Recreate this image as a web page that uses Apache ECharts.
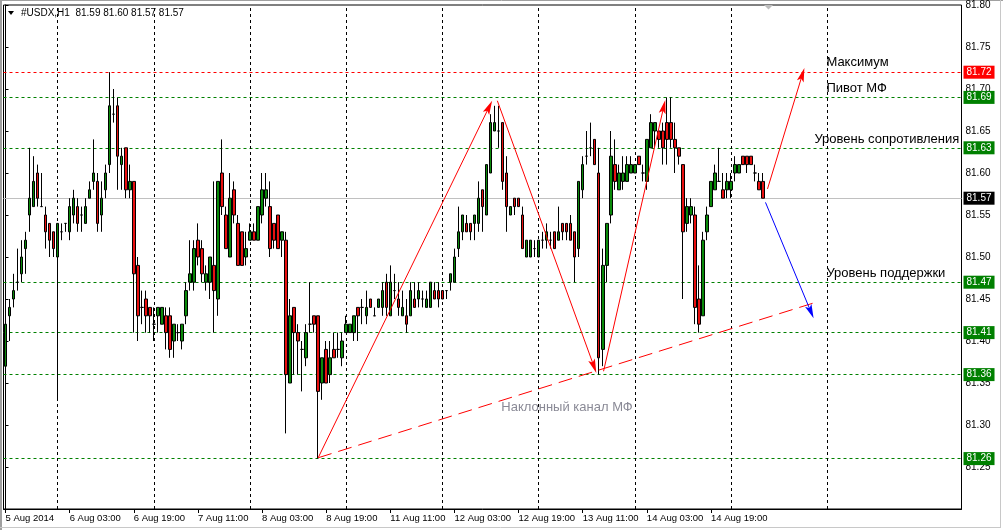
<!DOCTYPE html>
<html><head><meta charset="utf-8">
<script src="https://cdn.jsdelivr.net/npm/echarts@6/dist/echarts.min.js"></script>
<style>html,body{margin:0;padding:0;background:#fff}#c{width:1003px;height:530px}</style>
</head><body><div id="c"></div>
<script>
const symbolName = '#USDX,H1';
// OHLC of H1 bars, 5 Aug 2014 11:00 -> 15 Aug 2014 08:00
const opens = [
81.37,81.43,81.45,81.47,81.48,81.51,81.55,81.56,81.60,81.56,
81.55,81.54,81.53,81.50,81.53,81.54,81.53,81.55,81.56,81.55,
81.54,81.57,81.59,81.59,81.55,81.58,81.61,81.67,81.68,81.61,
81.63,81.58,81.59,81.49,81.44,81.45,81.44,81.42,81.43,81.42,
81.43,81.43,81.40,81.41,81.40,81.43,81.47,81.47,81.52,81.51,
81.47,81.47,81.49,81.45,81.60,81.55,81.50,81.58,81.54,81.53,
81.50,81.52,81.53,81.52,81.55,81.57,81.56,81.54,81.55,81.52,
81.52,81.35,81.44,81.41,81.39,81.38,81.42,81.43,81.43,81.35,
81.39,81.36,81.39,81.39,81.38,81.41,81.41,81.41,81.44,81.44,
81.43,81.45,81.43,81.44,81.44,81.47,81.43,81.46,81.45,81.43,
81.43,81.43,81.45,81.45,81.45,81.44,81.44,81.46,81.46,81.46,
81.46,81.47,81.47,81.51,81.53,81.54,81.54,81.54,81.54,81.58,
81.55,81.60,81.65,81.65,81.66,81.60,81.55,81.57,81.57,81.55,
81.50,81.50,81.51,81.50,81.52,81.52,81.52,81.53,81.52,81.54,
81.54,81.54,81.53,81.51,81.58,81.62,81.63,81.64,81.60,81.39,
81.49,81.55,81.61,81.58,81.59,81.59,81.60,81.60,81.62,81.60,
81.59,81.63,81.65,81.65,81.65,81.66,81.66,81.64,81.63,81.61,
81.54,81.55,81.55,81.45,81.43,81.53,81.56,81.58,81.59,81.58,
81.58,81.58,81.60,81.60,81.62,81.62,81.62,81.60,81.59,81.59];
const highs = [
81.44,81.45,81.48,81.51,81.52,81.53,81.63,81.62,81.61,81.60,
81.56,81.54,81.53,81.54,81.54,81.54,81.57,81.58,81.57,81.56,
81.57,81.59,81.64,81.60,81.59,81.61,81.72,81.70,81.69,81.63,
81.63,81.61,81.59,81.50,81.46,81.46,81.44,81.44,81.44,81.44,
81.44,81.44,81.42,81.42,81.42,81.47,81.52,81.52,81.54,81.52,
81.49,81.50,81.59,81.59,81.64,81.56,81.60,81.59,81.55,81.53,
81.53,81.54,81.54,81.56,81.60,81.60,81.59,81.54,81.55,81.53,
81.53,81.45,81.44,81.42,81.40,81.42,81.47,81.43,81.43,81.38,
81.40,81.40,81.41,81.41,81.41,81.43,81.42,81.43,81.44,81.45,
81.46,81.45,81.44,81.45,81.47,81.48,81.49,81.48,81.47,81.46,
81.45,81.47,81.47,81.47,81.46,81.46,81.47,81.47,81.47,81.46,
81.46,81.48,81.51,81.56,81.55,81.55,81.54,81.55,81.59,81.58,
81.61,81.67,81.68,81.68,81.66,81.62,81.56,81.57,81.57,81.56,
81.52,81.52,81.52,81.52,81.53,81.54,81.53,81.53,81.56,81.54,
81.54,81.55,81.53,81.59,81.62,81.65,81.66,81.64,81.63,81.51,
81.54,81.65,81.64,81.61,81.62,81.62,81.62,81.61,81.62,81.61,
81.64,81.67,81.66,81.65,81.66,81.69,81.69,81.66,81.63,81.61,
81.57,81.57,81.56,81.49,81.53,81.56,81.59,81.61,81.63,81.60,
81.60,81.60,81.62,81.61,81.62,81.62,81.62,81.61,81.60,81.60];
const lows = [
81.37,81.40,81.44,81.46,81.47,81.48,81.53,81.56,81.56,81.56,
81.51,81.50,81.50,81.33,81.52,81.53,81.52,81.54,81.53,81.53,
81.54,81.57,81.58,81.53,81.53,81.57,81.60,81.66,81.58,81.58,
81.57,81.57,81.41,81.40,81.42,81.41,81.41,81.40,81.41,81.42,
81.39,81.38,81.38,81.40,81.39,81.42,81.46,81.46,81.49,81.47,
81.46,81.45,81.41,81.43,81.55,81.51,81.50,81.54,81.49,81.49,
81.49,81.52,81.52,81.52,81.54,81.56,81.50,81.51,81.51,81.50,
81.29,81.35,81.36,81.36,81.34,81.37,81.41,81.41,81.26,81.33,
81.35,81.35,81.38,81.38,81.37,81.41,81.41,81.40,81.40,81.42,
81.42,81.44,81.43,81.44,81.43,81.43,81.43,81.45,81.43,81.43,
81.41,81.43,81.44,81.44,81.44,81.44,81.44,81.45,81.44,81.45,
81.45,81.46,81.47,81.50,81.52,81.53,81.52,81.52,81.53,81.53,
81.55,81.60,81.65,81.63,81.58,81.53,81.55,81.55,81.56,81.51,
81.50,81.50,81.50,81.50,81.51,81.51,81.51,81.51,81.52,81.52,
81.52,81.52,81.47,81.50,81.57,81.61,81.62,81.61,81.36,81.37,
81.47,81.54,81.58,81.58,81.58,81.59,81.60,81.60,81.61,81.59,
81.58,81.63,81.63,81.63,81.61,81.61,81.63,81.60,81.61,81.45,
81.53,81.54,81.42,81.41,81.43,81.52,81.56,81.58,81.59,81.57,
81.57,81.57,81.59,81.60,81.61,81.60,81.61,81.59,81.58,81.57];
const closes = [
81.42,81.44,81.46,81.47,81.50,81.52,81.57,81.59,81.57,81.56,
81.53,81.52,81.51,81.54,81.53,81.54,81.56,81.57,81.54,81.55,
81.56,81.58,81.60,81.54,81.57,81.60,81.68,81.67,81.62,81.62,
81.58,81.59,81.48,81.43,81.44,81.43,81.43,81.42,81.44,81.44,
81.41,81.39,81.42,81.41,81.42,81.46,81.48,81.51,81.50,81.48,
81.48,81.50,81.46,81.59,81.56,81.51,81.57,81.55,81.49,81.49,
81.51,81.53,81.52,81.56,81.58,81.58,81.51,81.52,81.51,81.53,
81.36,81.43,81.41,81.40,81.39,81.41,81.42,81.42,81.34,81.38,
81.35,81.38,81.38,81.39,81.40,81.42,81.42,81.43,81.43,81.44,
81.44,81.44,81.43,81.45,81.46,81.44,81.47,81.46,81.44,81.44,
81.42,81.46,81.44,81.46,81.45,81.45,81.47,81.45,81.45,81.45,
81.46,81.48,81.50,81.53,81.55,81.53,81.53,81.55,81.57,81.56,
81.61,81.66,81.66,81.65,81.59,81.56,81.56,81.56,81.56,81.51,
81.52,81.52,81.51,81.52,81.52,81.53,81.52,81.51,81.53,81.53,
81.53,81.52,81.50,81.59,81.61,81.62,81.63,81.61,81.38,81.49,
81.54,81.62,81.59,81.60,81.60,81.61,81.61,81.61,81.61,81.60,
81.64,81.66,81.66,81.64,81.63,81.64,81.64,81.63,81.62,81.53,
81.56,81.56,81.44,81.42,81.52,81.55,81.59,81.60,81.59,81.57,
81.59,81.59,81.61,81.61,81.61,81.61,81.61,81.60,81.58,81.57];

const totalSlots = 239; // bars + empty right shift area
const xTickIdx = [0,16,32,48,64,80,96,112,128,144,160,176];
const xTickLabels = ['5 Aug 2014','6 Aug 03:00','6 Aug 19:00','7 Aug 11:00','8 Aug 03:00','8 Aug 19:00',
  '11 Aug 11:00','12 Aug 03:00','12 Aug 19:00','13 Aug 11:00','14 Aug 03:00','14 Aug 19:00'];
const dayStartIdx = [13,37,61,85,109,133,157,181,205];

const levelPrices = [81.72,81.69,81.63,81.47,81.41,81.36,81.26];
const levelColors = ['#ff0000','#008000','#008000','#008000','#008000','#008000','#008000'];
const bidPrice = 81.57;

const arrowFrom = [[78.0,81.261],[122.7,81.686],[149.2,81.364],[190.1,81.581],[189.6,81.565]];
const arrowTo   = [[121.4,81.686],[147.4,81.362],[164.6,81.687],[199.3,81.725],[201.6,81.427]];
const arrowColors = ['#ff0000','#ff0000','#ff0000','#ff0000','#0000ff'];
const channelFrom = [78.0,81.261];
const channelTo = [202.1,81.446];

const noteTexts = ['Максимум','Пивот МФ','Уровень сопротивления','Уровень поддержки','Наклонный канал МФ'];
const notePos = [[204.8,81.732],[204.8,81.701],[201.8,81.640],[204.8,81.481],[123.7,81.321]];
const noteColors = ['#000000','#000000','#000000','#000000','#8a8a96'];

const FONT = '"Liberation Sans", Arial, sans-serif';
const n = opens.length;
const cats = Array.from({length: totalSlots}, (_, i) => String(i));
const labelMap = {};
xTickIdx.forEach((ix, k) => labelMap[ix] = xTickLabels[k]);

const chart = echarts.init(document.getElementById('c'), null, {renderer: 'canvas'});

const levelLabel = (txt, bg) => ({show: true, position: 'end', formatter: txt, backgroundColor: bg, color: '#fff',
  padding: [2, 3, 1, 3], distance: 2, fontSize: 10, fontFamily: FONT, lineHeight: 10});

const markData = levelPrices.map((p, i) => ({
  yAxis: p, lineStyle: {color: levelColors[i], type: [3, 3], width: 1},
  label: levelLabel(p.toFixed(2), levelColors[i])
})).concat([{
  yAxis: bidPrice, lineStyle: {color: '#c0c0c0', type: 'solid', width: 1},
  label: levelLabel(bidPrice.toFixed(2), '#000')
}]).concat(dayStartIdx.map(ix => ({
  xAxis: ix, lineStyle: {color: '#000', type: [3, 3], width: 1}, label: {show: false}
})));

const option = {
  animation: false,
  backgroundColor: '#fff',
  grid: {left: 3.5, right: 41.5, top: 5, bottom: 21, show: true, borderColor: '#000', borderWidth: 1, backgroundColor: '#fff'},
  xAxis: [{
    type: 'category', data: cats, boundaryGap: true,
    axisLine: {show: true, lineStyle: {color: '#000', width: 1}},
    axisTick: {show: true, alignWithLabel: true, length: 4, lineStyle: {color: '#000'},
      interval: (idx) => labelMap[idx] !== undefined},
    axisLabel: {show: true, interval: (idx) => labelMap[idx] !== undefined,
      formatter: (v, idx) => labelMap[idx] || '', align: 'left', margin: 4,
      color: '#000', fontSize: 9.5, fontFamily: FONT},
    splitLine: {show: false}
  }, {
    type: 'value', min: -0.5, max: totalSlots - 0.5, show: false
  }],
  yAxis: {
    type: 'value', position: 'right', min: 81.2, max: 81.8, interval: 0.05,
    axisLine: {show: true, lineStyle: {color: '#000', width: 1}},
    axisTick: {show: true, length: 3, lineStyle: {color: '#000'}},
    axisLabel: {color: '#000', fontSize: 10, fontFamily: FONT, margin: 4,
      formatter: (v) => v < 81.21 ? '' : v.toFixed(2)},
    splitLine: {show: false}
  },
  graphic: [
    {type: 'rect', shape: {x: 0, y: 0, width: 2, height: 530}, style: {fill: '#a0a0a0'}, silent: true},
    {type: 'line', shape: {x1: 0, y1: 0.5, x2: 1003, y2: 0.5}, style: {stroke: '#a0a0a0', lineWidth: 1}, silent: true},
    {type: 'line', shape: {x1: 1000.5, y1: 0, x2: 1000.5, y2: 528}, style: {stroke: '#c8c8c8', lineWidth: 1}, silent: true},
    {type: 'line', shape: {x1: 0, y1: 527.5, x2: 1001, y2: 527.5}, style: {stroke: '#c8c8c8', lineWidth: 1}, silent: true},
    {type: 'polygon', shape: {points: [[8, 11], [14, 11], [11, 15]]}, style: {fill: '#000'}, silent: true},
    {type: 'polygon', shape: {points: [[764, 5], [773, 5], [768.5, 9.5]]}, style: {fill: '#bdbdbd'}, silent: true},
    {type: 'text', x: 21, y: 13, silent: true, style: {
      text: symbolName + '  ' + [opens[n-1], highs[n-1], lows[n-1], closes[n-1]].map(v => v.toFixed(2)).join(' '),
      fill: '#000', fontSize: 10, fontFamily: FONT, verticalAlign: 'middle'}}
  ],
  series: [
    {
      type: 'line', data: [], z: 1, silent: true,
      markLine: {silent: true, z: 1, symbol: ['none', 'none'], animation: false, precision: 2, data: markData}
    },
    {
      type: 'candlestick', z: 3, silent: true, barWidth: 3,
      data: opens.map((o, i) => [o, closes[i], lows[i], highs[i]]),
      itemStyle: {color: '#0a8a0a', color0: '#e81010', borderColor: '#000', borderColor0: '#000',
        borderColorDoji: '#000', borderWidth: 1}
    },
    {
      type: 'custom', xAxisIndex: 1, z: 5, silent: true,
      data: [[channelFrom[0], channelFrom[1]]],
      renderItem: (params, api) => {
        const a = api.coord(channelFrom), b = api.coord(channelTo);
        return {type: 'line', shape: {x1: a[0], y1: a[1], x2: b[0], y2: b[1]},
          style: {stroke: '#ff0000', lineWidth: 1, lineDash: [14, 7]}};
      }
    },
    {
      type: 'custom', xAxisIndex: 1, z: 6, silent: true,
      data: arrowFrom.map(p => [p[0], p[1]]),
      renderItem: (params, api) => {
        const i = params.dataIndex;
        const a = api.coord(arrowFrom[i]), b = api.coord(arrowTo[i]);
        const dx = b[0] - a[0], dy = b[1] - a[1], len = Math.hypot(dx, dy);
        const ux = dx / len, uy = dy / len, hl = 14, hw = 3.5;
        const bx = b[0] - ux * hl, by = b[1] - uy * hl;
        const c = arrowColors[i];
        return {type: 'group', children: [
          {type: 'line', shape: {x1: a[0], y1: a[1], x2: bx + ux * 4, y2: by + uy * 4}, style: {stroke: c, lineWidth: 1}},
          {type: 'polygon', shape: {points: [[b[0], b[1]], [bx - uy * hw, by + ux * hw], [bx + ux * 3, by + uy * 3], [bx + uy * hw, by - ux * hw]]},
            style: {fill: c}}
        ]};
      }
    },
    {
      type: 'custom', xAxisIndex: 1, z: 7, silent: true,
      data: notePos.map(p => [p[0], p[1]]),
      renderItem: (params, api) => {
        const i = params.dataIndex;
        const p = api.coord(notePos[i]);
        return {type: 'text', x: p[0], y: p[1], style: {text: noteTexts[i], fill: noteColors[i],
          fontSize: 13, fontFamily: FONT, align: 'left', verticalAlign: 'middle'}};
      }
    }
  ]
};
chart.setOption(option);
</script>
</body></html>
